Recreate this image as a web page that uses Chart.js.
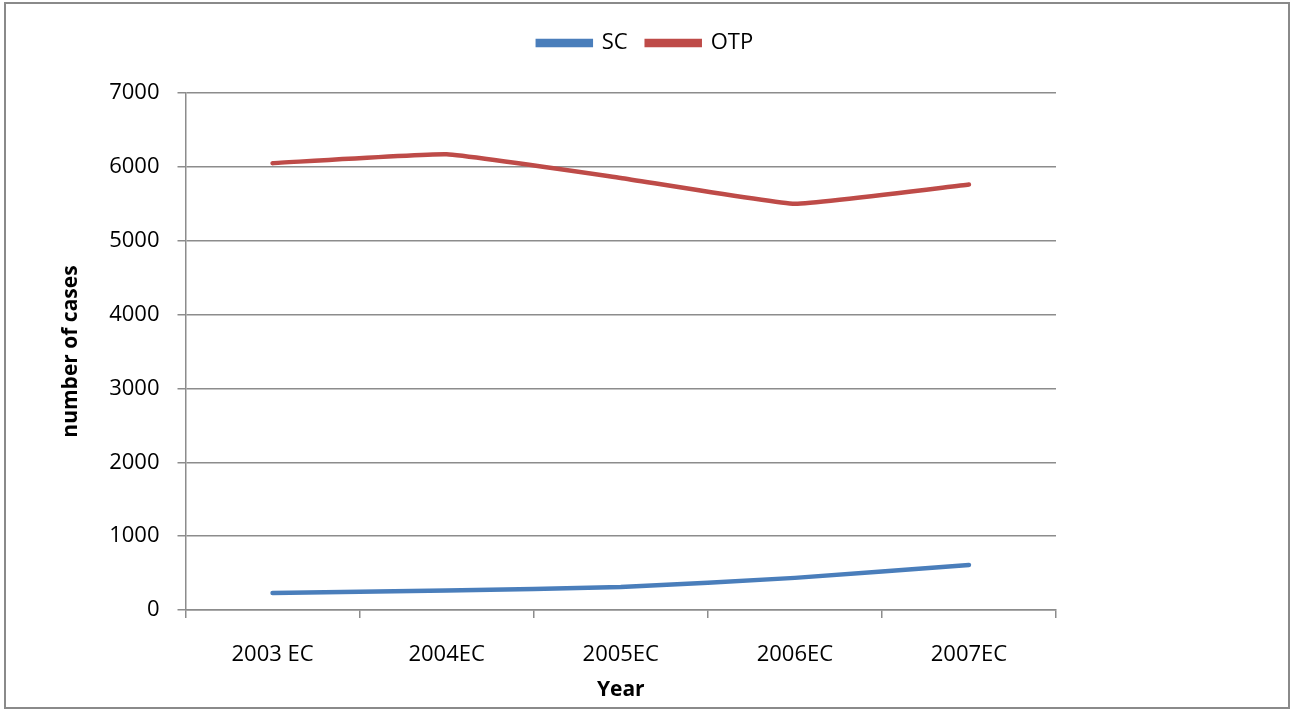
<!DOCTYPE html>
<html>
<head>
<meta charset="utf-8">
<script src="https://cdn.jsdelivr.net/npm/chart.js@4"></script>
<style>
  html, body { margin: 0; padding: 0; background: #fff; }
  #chart { display: block; }
</style>
</head>
<body>
<canvas id="chart" width="1291" height="710"></canvas>
<script>
const years = ["2003 EC", "2004EC", "2005EC", "2006EC", "2007EC"];
const scCases = [230, 265, 310, 435, 610];
const otpCases = [6050, 6170, 5850, 5500, 5760];
const yTicks = [0, 1000, 2000, 3000, 4000, 5000, 6000, 7000];

const gridColor = "#8c8c8c";
const fontFamily = "'Open Sans', 'Liberation Sans', sans-serif";

// grey frame round the whole chart
const frame = {
  id: "frame",
  afterDraw(chart) {
    const ctx = chart.ctx;
    ctx.save();
    ctx.strokeStyle = "#8a8a8a";
    ctx.lineWidth = 2;
    ctx.strokeRect(5, 3, 1284, 705);
    ctx.restore();
  },
};

// leave some empty room under the legend row
const legendSpace = {
  id: "legendSpace",
  beforeLayout(chart) {
    const lg = chart.legend;
    if (lg && !lg._spaced) {
      const fit = lg.fit;
      lg.fit = function () {
        fit.call(this);
        this.height += 29;
      };
      lg._spaced = true;
    }
  },
};

new Chart(document.getElementById("chart"), {
  type: "line",
  data: {
    labels: years,
    datasets: [
      {
        label: "SC",
        data: scCases,
        borderColor: "#4a7ebb",
        backgroundColor: "#4a7ebb",
        borderWidth: 4.5,
        pointRadius: 0,
        tension: 0.1,
        borderCapStyle: "round",
      },
      {
        label: "OTP",
        data: otpCases,
        borderColor: "#be4b48",
        backgroundColor: "#be4b48",
        borderWidth: 4.5,
        pointRadius: 0,
        tension: 0.1,
        borderCapStyle: "round",
      },
    ],
  },
  options: {
    responsive: false,
    animation: false,
    layout: { padding: { top: 13, left: 0, right: 0, bottom: 0 } },
    scales: {
      x: {
        type: "category",
        offset: true,
        afterFit: (s) => {
          s.height = 100;
          s.paddingRight = 235;
        },
        grid: {
          offset: true,
          drawOnChartArea: false,
          drawTicks: true,
          tickLength: 8,
          color: gridColor,
          lineWidth: 1.5,
        },
        border: { color: gridColor, width: 1.5 },
        ticks: {
          color: "#000",
          padding: 24,
          maxRotation: 0,
          font: { family: fontFamily, size: 22 },
        },
        title: {
          display: true,
          text: "Year",
          color: "#000",
          padding: { top: 0, bottom: 7 },
          font: { family: fontFamily, size: 21, weight: "bold" },
        },
      },
      y: {
        min: 0,
        max: 7000,
        afterFit: (s) => {
          s.width = 185.5;
        },
        afterBuildTicks: (s) => {
          s.ticks = yTicks.map((v) => ({ value: v }));
        },
        grid: {
          tickLength: 8,
          color: gridColor,
          lineWidth: 1.5,
        },
        border: { color: gridColor, width: 1.5 },
        ticks: {
          color: "#000",
          padding: 18,
          font: { family: fontFamily, size: 22 },
          callback: (v) => String(v),
        },
        title: {
          display: true,
          text: "number of cases",
          color: "#000",
          padding: { top: 58, bottom: 0 },
          font: { family: fontFamily, size: 21, weight: "bold" },
        },
      },
    },
    plugins: {
      legend: {
        position: "top",
        labels: {
          boxWidth: 53,
          boxHeight: 4,
          padding: 19,
          color: "#000",
          font: { family: fontFamily, size: 22 },
        },
      },
      tooltip: { enabled: false },
    },
  },
  plugins: [frame, legendSpace],
});
</script>
</body>
</html>
